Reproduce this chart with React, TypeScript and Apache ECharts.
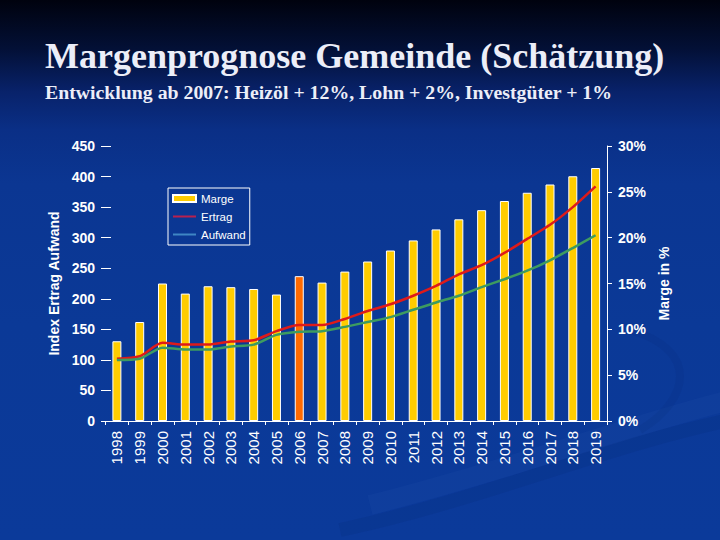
import React, { useEffect, useRef } from "react";
import * as echarts from "echarts";

const titleText = "Margenprognose Gemeinde (Schätzung)";
const subtitleText = "Entwicklung ab 2007: Heizöl + 12%, Lohn + 2%, Investgüter + 1%";

const years = [
  "1998", "1999", "2000", "2001", "2002", "2003", "2004", "2005", "2006", "2007", "2008",
  "2009", "2010", "2011", "2012", "2013", "2014", "2015", "2016", "2017", "2018", "2019",
];
// Marge in % (right axis)
const marge = [8.7, 10.8, 15.0, 13.9, 14.7, 14.6, 14.4, 13.8, 15.8, 15.1, 16.3, 17.4, 18.6, 19.7, 20.9, 22.0, 23.0, 24.0, 24.9, 25.8, 26.7, 27.6];
// Index (left axis)
const ertrag = [102, 106, 128, 125, 125, 130, 132, 147, 157, 157, 167, 180, 191, 205, 221, 240, 255, 275, 298, 321, 350, 384];
const aufwand = [100, 102, 120, 117, 117, 122, 125, 141, 146, 147, 154, 162, 170, 182, 194, 205, 219, 232, 246, 263, 283, 304];
const highlightYear = "2006";

const FONT = "Liberation Sans, Arial, sans-serif";
const SERIF = "Liberation Serif, Times New Roman, serif";
const LINE_ICON = "path://M0,0 L46,0 L46,4 L0,4 Z";

export default function App() {
  const ref = useRef<HTMLDivElement>(null);
  useEffect(() => {
    const chart = echarts.init(ref.current!, null, { renderer: "svg" });
    chart.setOption({
      animation: false,
      backgroundColor: "transparent",
      graphic: [
        {
          type: "bezierCurve",
          silent: true,
          z: 0,
          shape: { x1: 340, y1: 530, cpx1: 480, cpy1: 500, cpx2: 610, cpy2: 445, x2: 730, y2: 420 },
          style: { stroke: "rgba(0,25,90,0.10)", lineWidth: 14, fill: null },
        },
        {
          type: "bezierCurve",
          silent: true,
          z: 0,
          shape: { x1: 370, y1: 505, cpx1: 510, cpy1: 470, cpx2: 630, cpy2: 425, x2: 730, y2: 400 },
          style: { stroke: "rgba(90,130,215,0.05)", lineWidth: 20, fill: null },
        },
        {
          type: "bezierCurve",
          silent: true,
          z: 0,
          shape: { x1: 630, y1: 330, cpx1: 700, cpy1: 350, cpx2: 690, cpy2: 400, x2: 640, y2: 430 },
          style: { stroke: "rgba(0,25,90,0.08)", lineWidth: 8, fill: null },
        },
      ],
      title: [
        {
          text: titleText,
          left: 45,
          top: 38,
          padding: 0,
          textStyle: { fontFamily: SERIF, fontWeight: "bold", fontSize: 36, color: "#eceef8" },
        },
        {
          text: subtitleText,
          left: 45,
          top: 82,
          padding: 0,
          textStyle: { fontFamily: SERIF, fontWeight: "bold", fontSize: 19.8, color: "#eceef8" },
        },
      ],
      legend: {
        orient: "vertical",
        left: 168,
        top: 188,
        padding: [4, 4, 4, 4],
        itemGap: 5,
        itemWidth: 23,
        itemHeight: 7,
        borderColor: "#ffffff",
        borderWidth: 1,
        textStyle: { color: "#ffffff", fontFamily: FONT, fontSize: 11.5, lineHeight: 13 },
        data: [
          { name: "Marge", icon: "rect" },
          { name: "Ertrag", icon: LINE_ICON, itemStyle: { color: "#b8204e", borderWidth: 0 } },
          { name: "Aufwand", icon: LINE_ICON, itemStyle: { color: "#3f86c4", borderWidth: 0 } },
        ],
      },
      grid: { left: 105.5, right: 113, top: 146, bottom: 119, containLabel: false },
      xAxis: {
        type: "category",
        data: years,
        boundaryGap: true,
        axisLine: { lineStyle: { color: "#ffffff", width: 1 } },
        axisTick: { show: true, length: 4, lineStyle: { color: "#ffffff" } },
        axisLabel: {
          rotate: 90,
          margin: 10,
          color: "#ffffff",
          fontFamily: FONT,
          fontSize: 15,
          interval: 0,
        },
      },
      yAxis: [
        {
          type: "value",
          min: 0,
          max: 450,
          interval: 50,
          offset: 4.5,
          name: "Index Ertrag Aufwand",
          nameLocation: "middle",
          nameRotate: 90,
          nameGap: 38,
          nameTextStyle: { color: "#ffffff", fontFamily: FONT, fontWeight: "bold", fontSize: 14 },
          axisLine: { show: false },
          axisTick: { show: true, inside: true, length: 10, lineStyle: { color: "#ffffff" } },
          axisLabel: { color: "#ffffff", fontFamily: FONT, fontWeight: "bold", fontSize: 14, margin: 6 },
          splitLine: { show: false },
        },
        {
          type: "value",
          min: 0,
          max: 30,
          interval: 5,
          position: "right",
          name: "Marge in %",
          nameLocation: "middle",
          nameRotate: 90,
          nameGap: 48,
          nameTextStyle: { color: "#ffffff", fontFamily: FONT, fontWeight: "bold", fontSize: 14 },
          axisLine: { show: true, lineStyle: { color: "#ffffff", width: 1 } },
          axisTick: { show: true, length: 5, lineStyle: { color: "#ffffff" } },
          axisLabel: {
            color: "#ffffff",
            fontFamily: FONT,
            fontWeight: "bold",
            fontSize: 14,
            margin: 11,
            formatter: "{value}%",
          },
          splitLine: { show: false },
        },
      ],
      series: [
        {
          name: "Marge",
          type: "bar",
          yAxisIndex: 1,
          barWidth: 9,
          data: marge.map((v, i) => ({
            value: v,
            itemStyle: { color: years[i] === highlightYear ? "#ff6a00" : "#ffcc00" },
          })),
          itemStyle: { color: "#ffcc00", borderColor: "#ffffff", borderWidth: 1 },
        },
        {
          name: "Ertrag",
          type: "line",
          yAxisIndex: 0,
          data: ertrag,
          symbol: "none",
          smooth: 0.25,
          lineStyle: { color: "#de1a1a", width: 2.5 },
          itemStyle: { color: "#de1a1a" },
          z: 3,
        },
        {
          name: "Aufwand",
          type: "line",
          yAxisIndex: 0,
          data: aufwand,
          symbol: "none",
          smooth: 0.25,
          lineStyle: { color: "#3d9b60", width: 2.5 },
          itemStyle: { color: "#3d9b60" },
          z: 3,
        },
      ],
    });
    return () => chart.dispose();
  }, []);

  return (
    <div
      style={{
        position: "fixed",
        left: 0,
        top: 0,
        width: 720,
        height: 540,
        background:
          "linear-gradient(to bottom, #00020e 0%, #031036 9%, #08226a 17%, #0a2f86 24%, #0b3692 34%, #0b3997 60%, #0b3a9a 100%)",
        overflow: "hidden",
      }}
    >
      <div ref={ref} style={{ width: 720, height: 540 }} />
    </div>
  );
}
